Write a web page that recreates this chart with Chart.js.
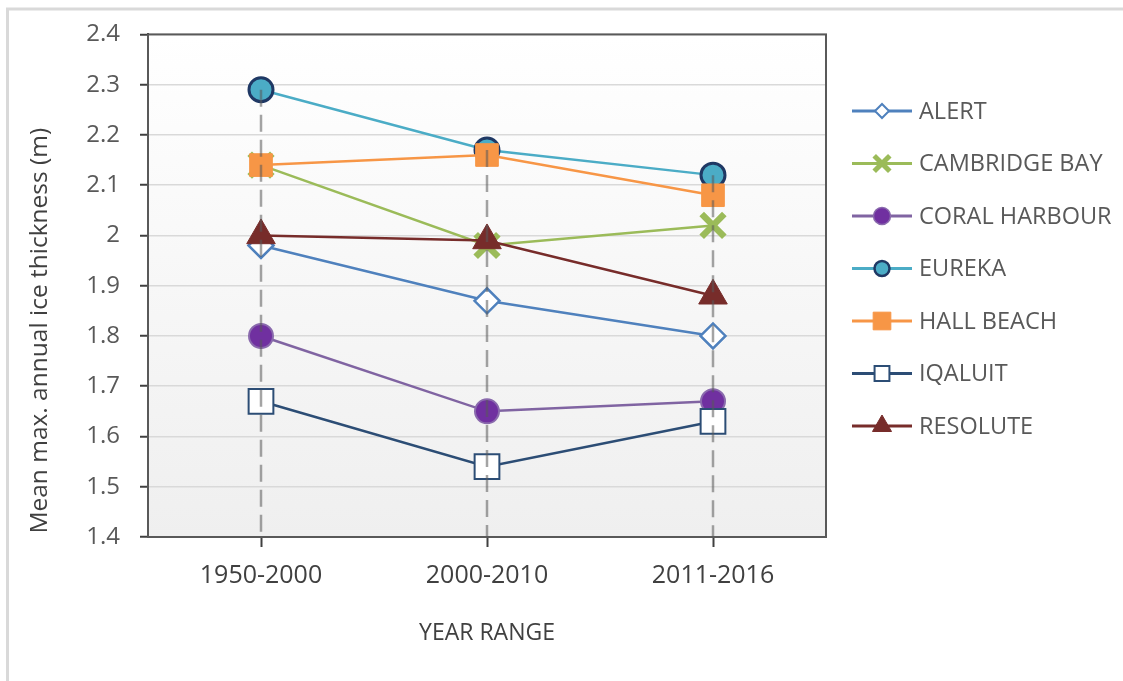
<!DOCTYPE html>
<html>
<head>
<meta charset="utf-8">
<script src="https://cdn.jsdelivr.net/npm/chart.js@4.4.1/dist/chart.umd.min.js"></script>
<style>
  html, body { margin: 0; padding: 0; background: #fff; }
  #wrap { width: 1123px; height: 681px; position: relative; }
</style>
</head>
<body>
<div id="wrap"><canvas id="graphCanvas" width="1123" height="681"></canvas></div>
<script>
// values
const yearRanges = ['1950-2000', '2000-2010', '2011-2016'];
const stationNames = ['ALERT', 'CAMBRIDGE BAY', 'CORAL HARBOUR', 'EUREKA', 'HALL BEACH', 'IQALUIT', 'RESOLUTE'];
const alertValues = [1.98, 1.87, 1.80];
const cambridgeBay = [2.14, 1.98, 2.02];
const coralHarbour = [1.80, 1.65, 1.67];
const eureka = [2.29, 2.17, 2.12];
const hallBeach = [2.14, 2.16, 2.08];
const iqaluit = [1.67, 1.54, 1.63];
const resolute = [2.00, 1.99, 1.88];
const yTicks = [1.4, 1.5, 1.6, 1.7, 1.8, 1.9, 2.0, 2.1, 2.2, 2.3, 2.4];

const FONT = '"Open Sans", "DejaVu Sans", sans-serif';

// r / bw = marker in the plot, lr / lbw = marker in the legend
const styles = [
    { line: '#4f81bd', fill: '#ffffff', border: '#4f81bd', point: 'rectRot', r: 12.5, bw: 2.5, lr: 7, lbw: 2 },
    { line: '#9bbb59', fill: '#9bbb59', border: '#9bbb59', point: 'crossRot', r: 16, bw: 6.5, lr: 11, lbw: 5 },
    { line: '#8064a2', fill: '#7030a0', border: '#8a6aad', point: 'circle', r: 12, bw: 2, lr: 8.5, lbw: 1.5 },
    { line: '#4bacc6', fill: '#4bacc6', border: '#1f3864', point: 'circle', r: 12, bw: 3, lr: 7.5, lbw: 2.5 },
    { line: '#f79646', fill: '#f79646', border: '#f79646', point: 'rect', r: 16, bw: 1, lr: 12.5, lbw: 1 },
    { line: '#2c4d75', fill: '#ffffff', border: '#2c4d75', point: 'rect', r: 17.5, bw: 2, lr: 10.5, lbw: 2 },
    { line: '#772c2a', fill: '#772c2a', border: '#772c2a', point: 'triangle', r: 16.5, bw: 1, lr: 11, lbw: 1 }
];
const series = [alertValues, cambridgeBay, coralHarbour, eureka, hallBeach, iqaluit, resolute];

const datasets = series.map((vals, i) => ({
    label: stationNames[i],
    data: vals,
    borderColor: styles[i].line,
    borderWidth: 2.5,
    pointStyle: styles[i].point,
    pointRadius: styles[i].r,
    pointHoverRadius: styles[i].r,
    pointBackgroundColor: styles[i].fill,
    pointBorderColor: styles[i].border,
    pointBorderWidth: styles[i].bw,
    tension: 0,
    order: series.length - i
}));

const backdrop = {
    id: 'backdrop',
    beforeDraw(chart) {
        const c = chart.ctx, a = chart.chartArea;
        c.save();
        c.fillStyle = '#fff';
        c.fillRect(0, 0, chart.width, chart.height);
        c.strokeStyle = '#d9d9d9';
        c.lineWidth = 3;
        c.beginPath();
        c.moveTo(7.5, chart.height + 5);
        c.lineTo(7.5, 9);
        c.lineTo(chart.width + 5, 9);
        c.stroke();
        const g = c.createLinearGradient(0, a.top, 0, a.bottom);
        g.addColorStop(0, '#ffffff');
        g.addColorStop(1, '#efefef');
        c.fillStyle = g;
        c.fillRect(a.left, a.top, a.right - a.left, a.bottom - a.top);
        c.restore();
    }
};

const dropLines = {
    id: 'dropLines',
    afterDatasetsDraw(chart) {
        const c = chart.ctx, a = chart.chartArea;
        const xs = chart.scales.x, ys = chart.scales.y;
        c.save();
        c.strokeStyle = 'rgba(90,90,90,0.55)';
        c.lineWidth = 2.5;
        c.setLineDash([17, 8]);
        yearRanges.forEach((cat, j) => {
            const top = Math.max(...series.map(s => s[j]));
            const x = xs.getPixelForValue(j);
            c.beginPath();
            c.moveTo(x, ys.getPixelForValue(top));
            c.lineTo(x, a.bottom);
            c.stroke();
        });
        c.restore();
    }
};

const plotFrame = {
    id: 'plotFrame',
    afterDraw(chart) {
        const c = chart.ctx, a = chart.chartArea;
        c.save();
        c.strokeStyle = '#595959';
        c.lineWidth = 2;
        c.strokeRect(a.left, a.top, a.right - a.left, a.bottom - a.top);
        // y axis title, sits lower than the axis middle in the original
        c.translate(40, (a.top + a.bottom) / 2 + 45);
        c.rotate(-Math.PI / 2);
        c.font = '24.5px ' + FONT;
        c.fillStyle = '#404040';
        c.textAlign = 'center';
        c.textBaseline = 'middle';
        c.fillText('Mean max. annual ice thickness (m)', 0, 0);
        c.restore();
    }
};

const sideLegend = {
    id: 'sideLegend',
    afterDraw(chart) {
        const c = chart.ctx, a = chart.chartArea;
        const x0 = a.right + 26;
        c.save();
        c.font = '23.5px ' + FONT;
        c.textBaseline = 'middle';
        chart.data.datasets.forEach((ds, i) => {
            const st = styles[i];
            const y = 111 + i * 52.5;
            c.strokeStyle = ds.borderColor;
            c.lineWidth = 3;
            c.beginPath();
            c.moveTo(x0, y);
            c.lineTo(x0 + 60, y);
            c.stroke();
            c.fillStyle = st.fill;
            c.strokeStyle = st.border;
            c.lineWidth = st.lbw;
            Chart.helpers.drawPoint(c, { pointStyle: st.point, radius: st.lr, rotation: 0, borderWidth: st.lbw }, x0 + 30, y);
            c.fillStyle = '#595959';
            c.fillText(ds.label, x0 + 67, y + 1);
        });
        c.restore();
    }
};

const config = {
    type: 'line',
    data: { labels: yearRanges, datasets: datasets },
    options: {
        responsive: false,
        animation: false,
        layout: { padding: { left: 20, top: 34, right: 297, bottom: 30 } },
        plugins: { legend: { display: false }, tooltip: { enabled: false } },
        scales: {
            x: {
                type: 'category',
                offset: true,
                afterFit(s) { s.height = 114; },
                grid: { drawOnChartArea: false, drawTicks: true, tickLength: 10, tickColor: '#404040', tickWidth: 2 },
                border: { display: true, color: '#404040', width: 2 },
                ticks: { color: '#404040', font: { family: FONT, size: 25 }, padding: 14 },
                title: { display: true, text: 'YEAR RANGE', color: '#404040', font: { family: FONT, size: 23 } }
            },
            y: {
                min: 1.4,
                max: 2.4,
                afterFit(s) { s.width = 128; },
                afterBuildTicks(s) { s.ticks = yTicks.map(v => ({ value: v })); },
                grid: { color: '#d9d9d9', lineWidth: 1.5, tickLength: 8, tickColor: '#404040', tickWidth: 2 },
                border: { display: true, color: '#404040', width: 2 },
                ticks: {
                    color: '#595959',
                    font: { family: FONT, size: 24 },
                    padding: 20,
                    callback: v => String(Number(v.toFixed(1)))
                },
                title: { display: false }
            }
        }
    },
    plugins: [backdrop, dropLines, plotFrame, sideLegend]
};

const chart = new Chart(document.getElementById('graphCanvas').getContext('2d'), config);
</script>
</body>
</html>
